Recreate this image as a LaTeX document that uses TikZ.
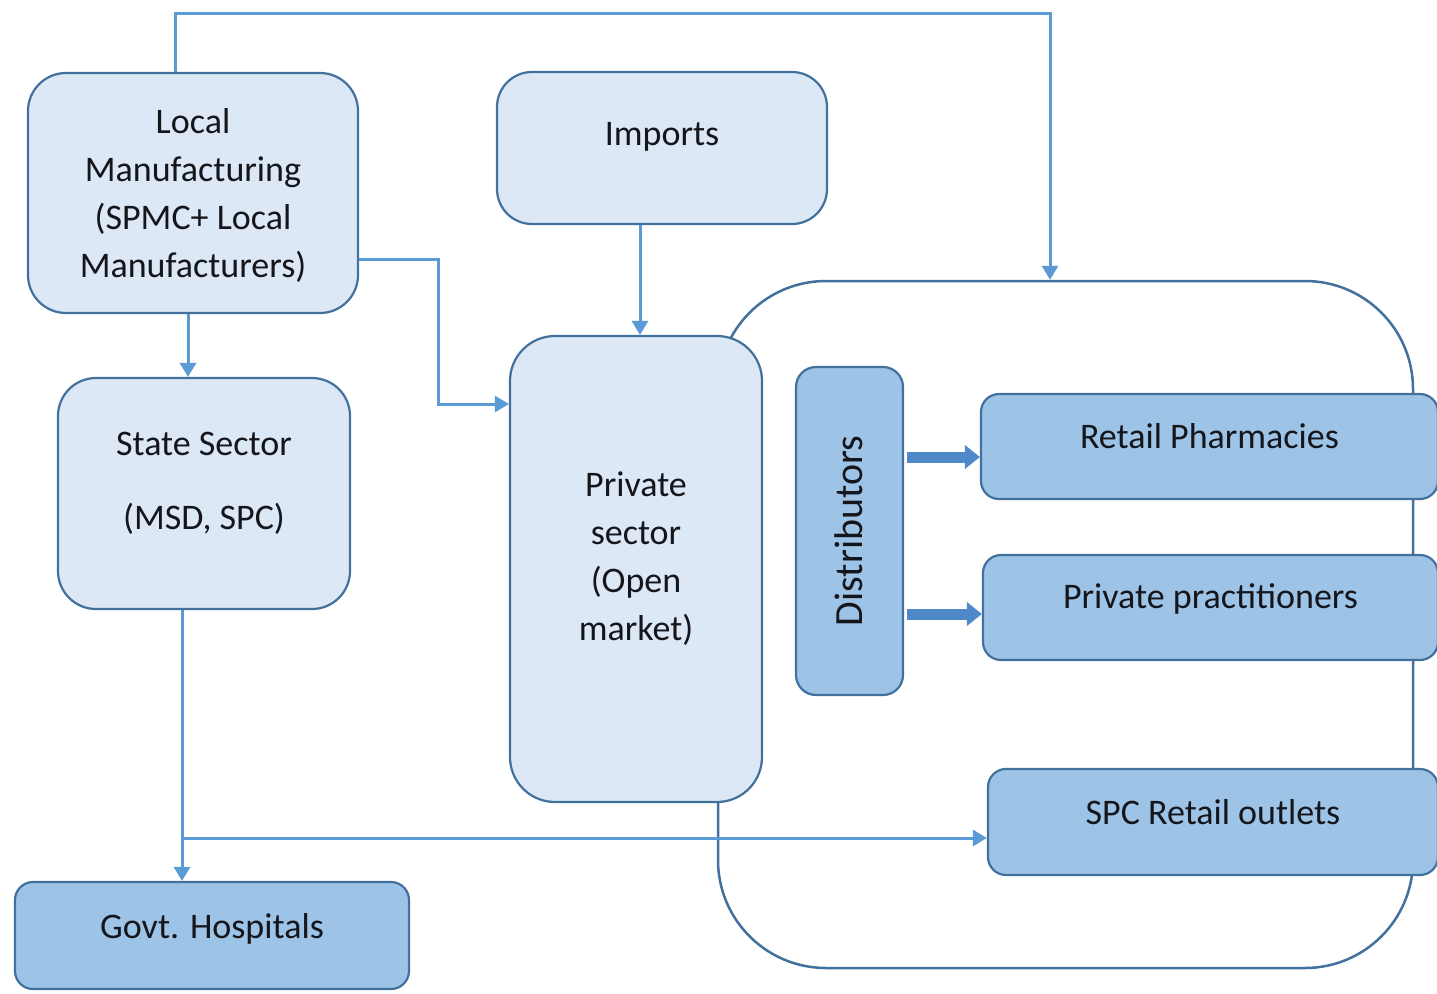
\documentclass[tikz,border=0pt]{standalone}
\usepackage{fontspec}
\setmainfont{Carlito}
\usetikzlibrary{arrows.meta}
\definecolor{lightfill}{HTML}{DCE8F6}
\definecolor{darkfill}{HTML}{9DC3E6}
\definecolor{edgecol}{HTML}{41719C}
\definecolor{conncol}{HTML}{5B9BD5}
\definecolor{blockcol}{HTML}{4F88C8}
\definecolor{txtcol}{HTML}{15161C}
\begin{document}
\begin{tikzpicture}[x=1pt,y=-1pt,
  lbox/.style={draw=edgecol, line width=2.2pt, fill=lightfill, rounded corners=38pt, align=center, inner sep=0pt, font=\fontsize{36}{48}\selectfont, text=txtcol},
  dbox/.style={lbox, fill=darkfill, rounded corners=18pt},
  frame/.style={draw=edgecol, line width=2.5pt, rounded corners=108pt, inner sep=0pt},
  conn/.style={draw=conncol, line width=3pt, -{Triangle[length=14pt,width=16pt]}},
  block/.style={draw=blockcol, line width=11pt, -{Triangle[length=15pt,width=23pt]}},
]
\path[use as bounding box] (0,0) rectangle (1437,993);
\clip (0,0) rectangle (1437,993);
\fill[white] (0,0) rectangle (1437,993);

% big frame
\node[frame, minimum width=695pt, minimum height=687pt] (fr) at (1065.5,624.5) {};

% boxes
\node[lbox, minimum width=330pt, minimum height=240pt, text depth=0pt] (lm) at (193,193)
  {Local\\Manufacturing\\(SPMC+ Local\\Manufacturers)};
\node[lbox, rounded corners=35pt, minimum width=330pt, minimum height=152pt, text height=26pt, text depth=32pt] (imp) at (662,148) {Imports};
\node[lbox, minimum width=292pt, minimum height=231pt, text depth=25pt] (ss) at (204,493.5)
  {State Sector\\[26pt](MSD, SPC)};
\node[lbox, rounded corners=45pt, minimum width=252pt, minimum height=466pt, text depth=26pt] (ps) at (636,569)
  {Private\\sector\\(Open\\market)};
\node[dbox, rounded corners=20pt, rotate=90, minimum width=328pt, minimum height=107pt, font=\fontsize{40}{48}\selectfont, text height=28pt, text depth=2pt] (dist) at (849.5,531) {Distributors};
\node[dbox, minimum width=457pt, minimum height=105pt, text height=26pt, text depth=23pt] (rp) at (1209.5,446.5) {Retail Pharmacies};
\node[dbox, minimum width=455pt, minimum height=105pt, text height=26pt, text depth=25pt] (pp) at (1210.5,607.5) {Private practitioners};
\node[dbox, minimum width=450pt, minimum height=106pt, text height=26pt, text depth=22pt] (spc) at (1213,822) {SPC Retail outlets};
\node[dbox, minimum width=394pt, minimum height=107pt, text height=26pt, text depth=21pt] (gh) at (212,935.5) {Govt. Hospitals};

% connectors
\coordinate (t1) at (175,13);
\coordinate (t2) at (1050,13);
\draw[conn] (t1 |- lm.north) -- (t1) -- (t2) -- (t2 |- fr.north);

\coordinate (c2) at (438,259);
\coordinate (c3) at (438,404);
\draw[conn] (c2 -| lm.east) -- (c2) -- (c3) -- (c3 -| ps.west);

\coordinate (c4) at (188,345);
\draw[conn] (c4 |- lm.south) -- (c4 |- ss.north);

\coordinate (c5) at (640,280);
\draw[conn] (c5 |- imp.south) -- (c5 |- ps.north);

\coordinate (c6) at (182,838);
\draw[conn] (c6 |- ss.south) -- (c6 |- gh.north);
\draw[conn] (c6) -- (c6 -| spc.west);

\coordinate (b1) at (907,457);
\coordinate (b2) at (907,614);
\draw[block] (b1) -- (b1 -| rp.west);
\draw[block] (b2) -- (b2 -| pp.west);
\end{tikzpicture}
\end{document}
